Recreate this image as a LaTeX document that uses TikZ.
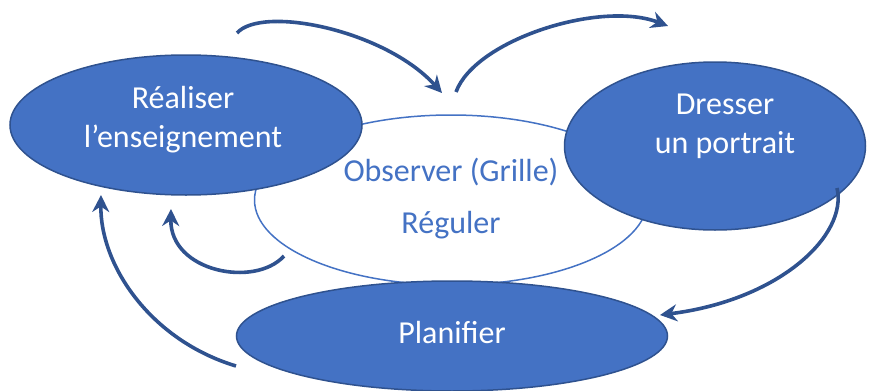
\documentclass[tikz,border=0pt]{standalone}
\usepackage{fontspec}
\setmainfont{Carlito}
\usetikzlibrary{shapes.geometric,arrows.meta,positioning}
\definecolor{fillblue}{HTML}{4472C4}
\definecolor{lineblue}{HTML}{2F528F}

\tikzset{
  stage/.style={ellipse, draw=lineblue, line width=1.5pt, fill=fillblue, inner sep=0pt},
  core/.style={ellipse, draw=fillblue, line width=1.5pt, fill=white, inner sep=0pt},
  stagetext/.style={text=white, align=center, font=\fontsize{32}{39}\selectfont},
  coretext/.style={text=fillblue, font=\fontsize{32}{39}\selectfont},
  loop/.style={draw=lineblue, line width=3.6pt, -{Stealth[length=17pt,width=17pt]}}
}

\begin{document}
\begin{tikzpicture}[x=1pt,y=-1pt]
  \useasboundingbox (0,0) rectangle (876,391);

  \node[core, minimum width=393pt, minimum height=170pt] (obs) at (451,200) {};
  \node[coretext] (grille) at (451,172) {Observer (Grille)};
  \node[coretext] (reguler) at (451,225) {Réguler};

  \node[stage, minimum width=352pt, minimum height=140pt] (real) at (186,125) {};
  \node[stagetext] (realtext) at (183,120) {Réaliser\\l’enseignement};
  \node[stage, minimum width=301pt, minimum height=168pt] (portrait) at (715,146) {};
  \node[stagetext] (portraittext) at (725,126) {Dresser\\un portrait};
  \node[stage, minimum width=431pt, minimum height=110pt] (plan) at (452,336) {};
  \node[stagetext] (plantext) at (452,333) {Planifier};

  % ends of the curved arrows
  \coordinate (t1) at (237,33);
  \coordinate (h1) at (442,93);
  \coordinate (t2) at (456,92);
  \coordinate (h2) at (668,26);
  \coordinate (t3) at (837,188);
  \coordinate (h3) at (660,315);
  \coordinate (t4) at (236,366);
  \coordinate (h4) at (101,195);
  \coordinate (t5) at (284,256);
  \coordinate (h5) at (171,209);

  \draw[loop] (t1) .. controls (262,5) and (385,30) .. (h1);
  \draw[loop] (t2) .. controls (475,40) and (600,0) .. (h2);
  \draw[loop] (t3) .. controls (848,235) and (780,300) .. (h3);
  \draw[loop] (t4) .. controls (150,340) and (100,265) .. (h4);
  \draw[loop] (t5) .. controls (255,288) and (170,272) .. (h5);
\end{tikzpicture}
\end{document}
